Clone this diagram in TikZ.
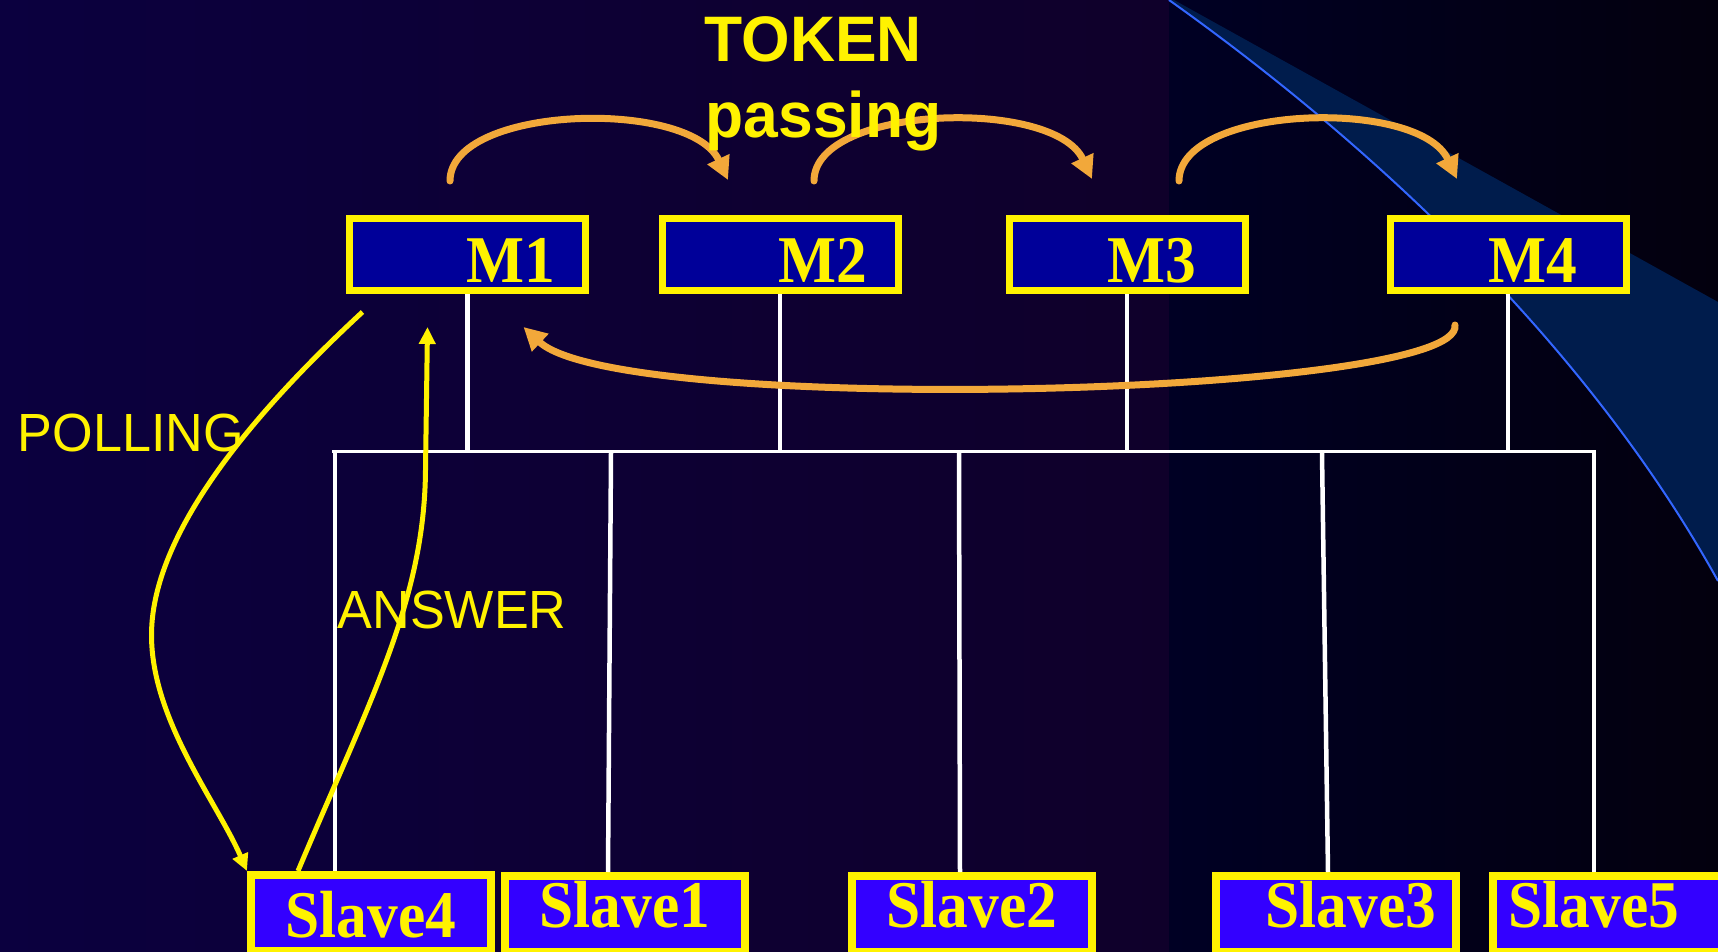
\documentclass[tikz,border=0pt]{standalone}
\usepackage{fontspec}
\usepackage{tikz}
\usetikzlibrary{arrows.meta}

\newfontfamily\boxfont{Liberation Serif}[FakeStretch=0.92]
\newfontfamily\labelfont{Liberation Sans}[FakeStretch=0.97]

\definecolor{bgleft}{HTML}{0B003F}
\definecolor{bgcentre}{HTML}{0C0039}
\definecolor{bgmid}{HTML}{0F002A}
\definecolor{bgright}{HTML}{000024}
\definecolor{bgfar}{HTML}{03000E}
\definecolor{swoosh}{HTML}{001C4C}
\definecolor{swooshline}{HTML}{3366FF}
\definecolor{masterblue}{HTML}{000099}
\definecolor{slaveblue}{HTML}{3300FF}
\definecolor{tokenorange}{HTML}{F2A83A}

\tikzstyle{master} = [rectangle, draw=yellow, line width=0.7mm, fill=masterblue, text=yellow,
    minimum width=23.6mm, minimum height=7.2mm, inner sep=0pt, text height=5.6mm, text depth=0mm,
    font=\boxfont\bfseries\fontsize{19}{19}\selectfont]
\tikzstyle{slave} = [rectangle, draw=yellow, line width=0.8mm, fill=slaveblue, text=yellow,
    minimum width=24mm, minimum height=7.6mm, inner sep=0pt, text height=2.6mm, text depth=0mm,
    font=\boxfont\bfseries\fontsize{19}{19}\selectfont]
\tikzstyle{wire} = [draw=white, line width=0.45mm]
\tikzstyle{bus} = [draw=white, line width=0.3mm]
\tikzstyle{token} = [draw=tokenorange, line width=0.7mm, line cap=round, -{Triangle[length=2.3mm,width=2.3mm]}]
\tikzstyle{ctrl} = [draw=yellow, line width=0.5mm, -{Triangle[length=1.7mm,width=1.6mm]}]
\tikzstyle{title} = [text=yellow, inner sep=0pt, anchor=base west,
    font=\labelfont\bfseries\fontsize{18.3}{22}\selectfont]
\tikzstyle{tag} = [text=yellow, inner sep=0pt, anchor=base west,
    font=\labelfont\fontsize{15.3}{18}\selectfont]

\begin{document}
\begin{tikzpicture}[x=0.1mm, y=-0.1mm]
      \useasboundingbox (0,0) rectangle (1718,952);
      % Background
      \shade[left color=bgleft, middle color=bgcentre, right color=bgmid] (0,0) rectangle (1169,952);
      \shade[left color=bgright, right color=bgfar] (1169,0) rectangle (1718,952);
      \fill[swoosh] (1174,0) -- (1718,302) -- (1718,581) .. controls (1590,350) and (1380,150) .. (1169,0) -- cycle;
      \draw[swooshline, line width=0.2mm] (1169,0) .. controls (1380,150) and (1590,350) .. (1718,581);
      % Masters
      \node [master] (m1) at (467.5,254.5) {\hspace*{8.6mm}M1};
      \node [master] (m2) at (780,254.5) {\hspace*{8.6mm}M2};
      \node [master] (m3) at (1127,254.5) {\hspace*{5mm}M3};
      \node [master] (m4) at (1508,254.5) {\hspace*{5mm}M4};
      % Slaves
      \node [slave, text height=4.8mm] (slave4) at (371,913) {Slave4};
      \node [slave] (slave1) at (625,914) {Slave1};
      \node [slave] (slave2) at (972,914) {Slave2};
      \node [slave] (slave3) at (1336,914) {\hspace*{3mm}Slave3};
      \node [slave] (slave5) at (1613,914) {Slave5\hspace*{3.8mm}};
      % Bus
      \coordinate (busL) at (332,452);
      \coordinate (busR) at (1596,452);
      \path [bus] (busL) -- (busR);
      \path [wire] (m1.south) -- (m1.south |- busL);
      \path [wire] (m2.south) -- (m2.south |- busL);
      \path [wire] (m3.south) -- (m3.south |- busL);
      \path [wire] (m4.south) -- (m4.south |- busL);
      \path [wire] ([shift={(-36,0)}]slave4.north) -- ++(0,-419);
      \path [wire] ([shift={(-17,0)}]slave1.north) -- ++(3,-419);
      \path [wire] ([shift={(-12,0)}]slave2.north) -- ++(-1,-419);
      \path [wire] ([shift={(-8,0)}]slave3.north) -- ++(-6,-419);
      \path [wire] ([shift={(-19,0)}]slave5.north) -- ++(0,-419);
      % Token passing
      \draw [token] ([shift={(-17.5,-34)}]m1.north) .. controls +(0,-76) and +(-38,-82) .. ([shift={(-52,-35)}]m2.north);
      \draw [token] ([shift={(34,-34)}]m2.north) .. controls +(0,-76) and +(-38,-82) .. ([shift={(-35,-36)}]m3.north);
      \draw [token] ([shift={(52,-34)}]m3.north) .. controls +(0,-76) and +(-38,-82) .. ([shift={(-51,-36)}]m4.north);
      \draw [token] ([shift={(-53,31)}]m4.south) .. controls +(10,72) and +(96,90) .. ([shift={(56,33)}]m1.south);
      % Polling and answer
      \draw [ctrl] ([shift={(-105,18)}]m1.south) .. controls +(-80,74) and +(0,-115) .. ++(-211,323)
            .. controls +(0,85) and +(-30,-69) .. (slave4.north west);
      \draw [ctrl] ([shift={(-73,0)}]slave4.north) .. controls +(72,-171) and +(-1,130) .. ([shift={(-42,176)}]m1.south)
            -- ([shift={(-40,33)}]m1.south);
      % Labels
      \node [title] (token) at (704,62) {TOKEN};
      \node [title] (passing) at (705,138) {passing};
      \node [tag] (polling) at (17,452) {POLLING};
      \node [tag] (answer) at (337,628) {ANSWER};
\end{tikzpicture}
\end{document}
